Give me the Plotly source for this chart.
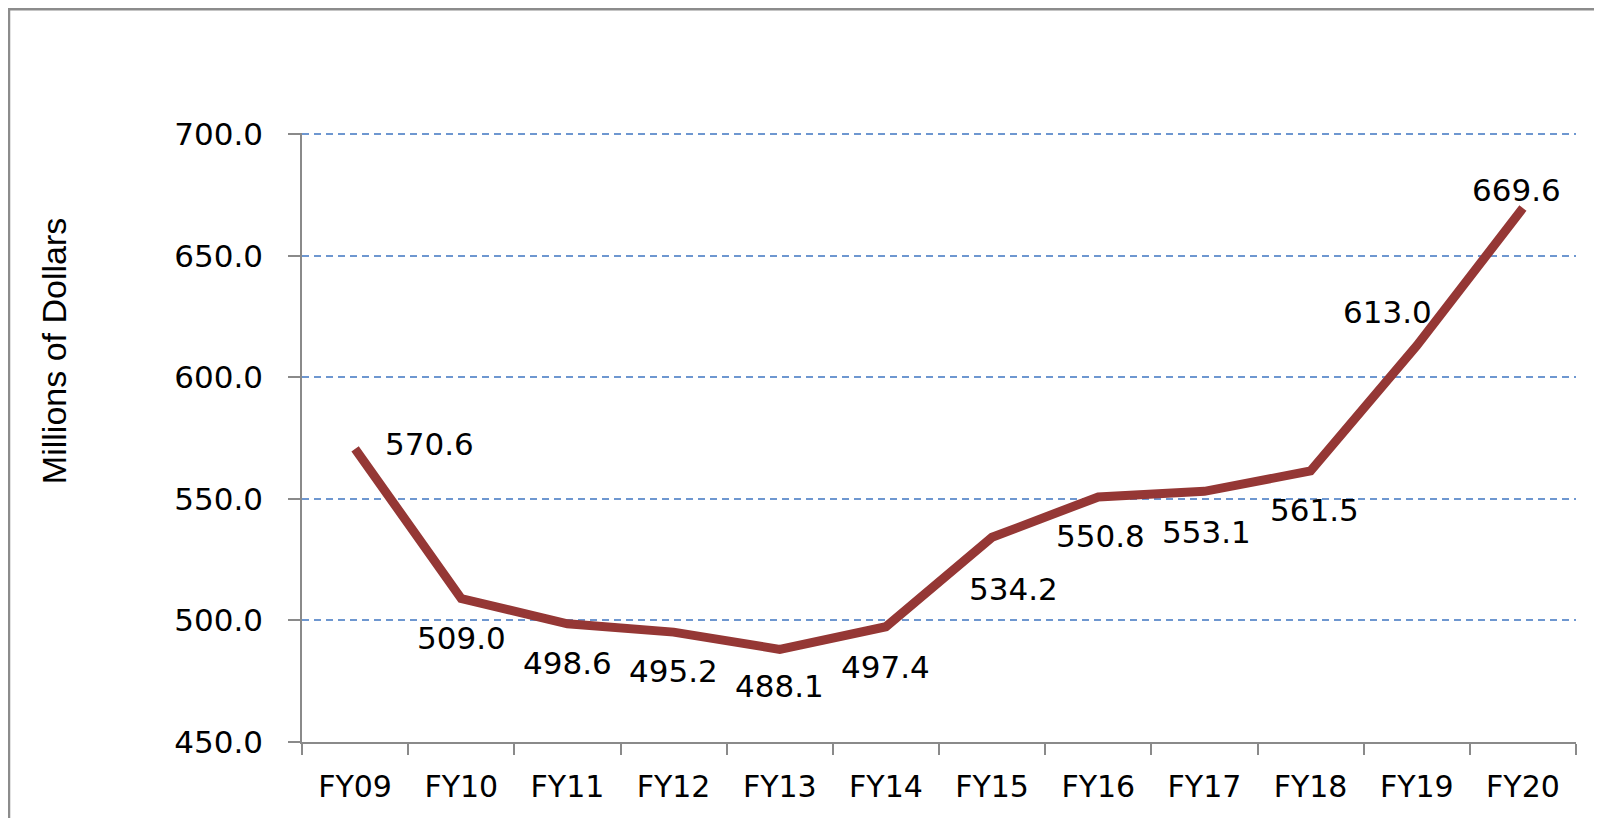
import plotly.graph_objects as go

categories = ["FY09", "FY10", "FY11", "FY12", "FY13", "FY14", "FY15", "FY16", "FY17", "FY18", "FY19", "FY20"]
values = [570.6, 509.0, 498.6, 495.2, 488.1, 497.4, 534.2, 550.8, 553.1, 561.5, 613.0, 669.6]
y_ticks = [450, 500, 550, 600, 650, 700]

# label offsets in pixels (dx right, dy down) relative to each point
label_dx = [74, 0, 0, 0, 0, 0, 21, 2, 2, 4, -29, -6]
label_dy = [-5, 39, 39, 39, 37, 40, 52, 39, 41, 39, -34, -18]

W, H = 1602, 818
OFF = 8  # page body margin
L, T = 302 - OFF, 134 - OFF
pw, ph = 1274, 608
R, B = W - L - pw, H - T - ph
Y0, Y1 = 450, 700.5
scale = ph / 250.0
T = T - (Y1 - 700) * scale
ph = ph + (Y1 - 700) * scale
B = H - T - ph

fig = go.Figure()
fig.add_trace(go.Scatter(
    x=categories, y=values, mode="lines",
    line=dict(color="#953735", width=9),
    hoverinfo="skip", showlegend=False,
))

for c, v, dx, dy in zip(categories, values, label_dx, label_dy):
    fig.add_annotation(
        x=c, y=v, text=f"{v:.1f}", showarrow=False,
        xshift=dx, yshift=-dy,
        font=dict(family="DejaVu Sans", size=31, color="black"),
        xanchor="center", yanchor="middle",
    )

# y-axis title
fig.add_annotation(
    xref="paper", yref="paper",
    x=(54 - OFF - L) / pw, y=(H - B - (351 - OFF)) / ph,
    text="Millions of Dollars", textangle=-90, showarrow=False,
    font=dict(family="Liberation Sans", size=34, color="black"),
    xanchor="center", yanchor="middle",
)

# outer border
fig.add_shape(
    type="rect", xref="paper", yref="paper",
    x0=(9 - OFF - L) / pw, x1=(W + 10 - L) / pw,
    y0=(H - B - (H + 10)) / ph, y1=(H - B - (9 - OFF)) / ph,
    line=dict(color="#8c8c8c", width=2.5), fillcolor="rgba(0,0,0,0)",
    layer="below",
)

fig.update_layout(
    width=W, height=H,
    margin=dict(l=L, r=R, t=T, b=B, pad=0),
    paper_bgcolor="white", plot_bgcolor="white",
    xaxis=dict(
        type="category", range=[-0.5, 11.5],
        showline=True, linecolor="#8a8a8a", linewidth=1.5,
        ticks="outside", tickson="boundaries", ticklen=11,
        tickcolor="#8a8a8a", tickwidth=1.5,
        showgrid=False, zeroline=False,
        tickfont=dict(family="DejaVu Sans", size=30, color="black"),
        ticklabelstandoff=17,
    ),
    yaxis=dict(
        range=[Y0, Y1], tickvals=y_ticks,
        ticktext=[f"{t:.1f}" for t in y_ticks],
        showline=True, linecolor="#8a8a8a", linewidth=1.5,
        ticks="outside", ticklen=12, tickcolor="#8a8a8a", tickwidth=1.5,
        showgrid=True, gridcolor="#6e97d0", gridwidth=1.8, griddash="7px,5px",
        zeroline=False,
        tickfont=dict(family="DejaVu Sans", size=31, color="black"),
        ticklabelstandoff=19,
    ),
)

fig.write_html("out.html")
